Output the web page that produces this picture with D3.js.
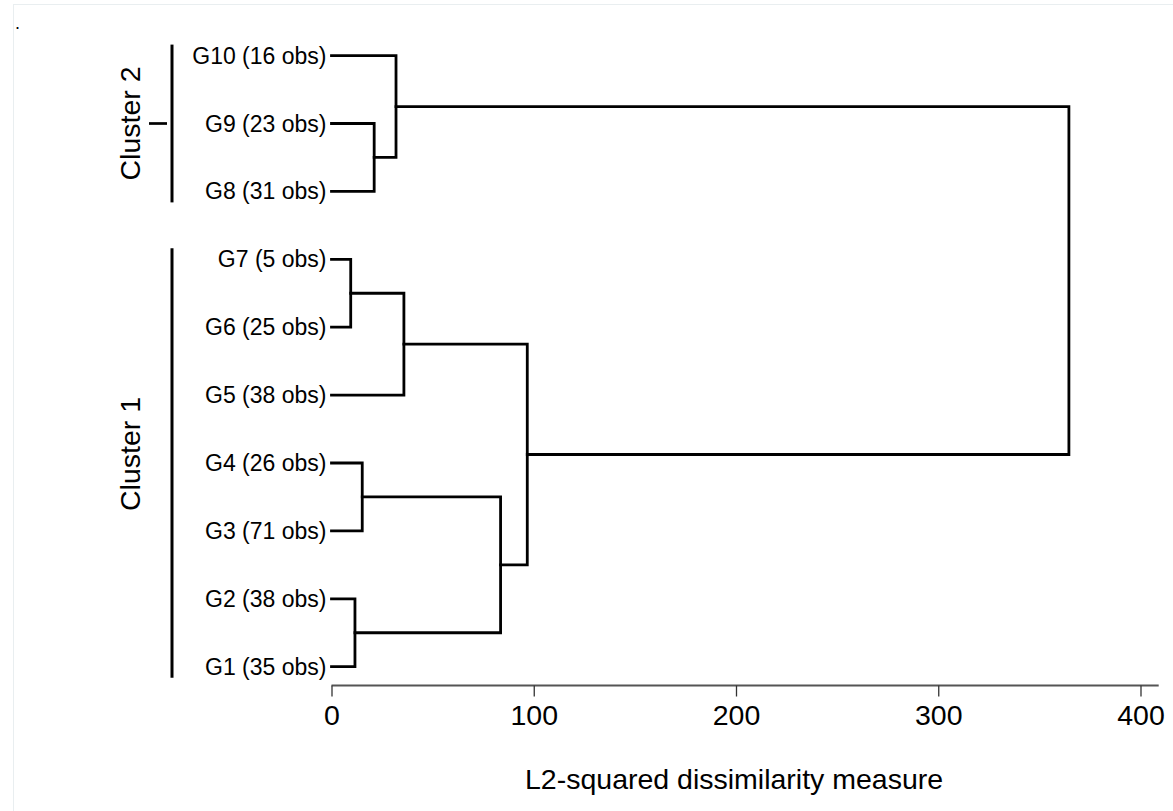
<!DOCTYPE html>
<html>
<head>
<meta charset="utf-8">
<script src="https://cdn.jsdelivr.net/npm/d3@7"></script>
<style>
  html, body { margin: 0; padding: 0; background: #fff; }
  svg { display: block; }
  text { font-family: "Liberation Sans", Arial, Helvetica, sans-serif; fill: #000; }
</style>
</head>
<body>
<svg id="chart" width="1173" height="811"></svg>
<script>
// ---- Data ----
// Leaves in display order (top to bottom)
const leafIds    = ["G10", "G9", "G8", "G7", "G6", "G5", "G4", "G3", "G2", "G1"];
const leafLabels = ["G10 (16 obs)", "G9 (23 obs)", "G8 (31 obs)", "G7 (5 obs)", "G6 (25 obs)",
                    "G5 (38 obs)", "G4 (26 obs)", "G3 (71 obs)", "G2 (38 obs)", "G1 (35 obs)"];
// Merge steps (linkage): node ids, children, dissimilarity height
const mergeIds    = ["N1", "N2", "N3", "N4", "N5", "N6", "N7", "N8", "N9"];
const mergeLeft   = ["G7", "G2", "G4", "G9", "G10", "N1", "N3", "N6", "N5"];
const mergeRight  = ["G6", "G1", "G3", "G8", "N4",  "G5", "N2", "N7", "N8"];
const mergeHeight = [9.5, 11.6, 15.2, 21.1, 31.9, 35.8, 83.6, 96.8, 364.6];
// Axis
const xTicks = [0, 100, 200, 300, 400];
const axisMax = 409;
const axisTitle = "L2-squared dissimilarity measure";
// Cluster groupings
const clusterNames = ["Cluster 2", "Cluster 1"];
const clusterFirst = ["G10", "G7"];
const clusterLast  = ["G8", "G1"];
const clusterTick  = [true, false];

// ---- Drawing ----
const svg = d3.select("#chart");
svg.append("rect").attr("x", 13.5).attr("y", 4.5).attr("width", 1200).attr("height", 900)
  .attr("fill", "#fff").attr("stroke", "#e9eef0").attr("stroke-width", 1);
svg.append("text").attr("x", 15).attr("y", 29).attr("font-size", 18).text(".");

const x = d3.scaleLinear().domain([0, axisMax]).range([331.5, 1158.7]);
const y = d3.scalePoint().domain(leafIds).range([55.6, 666.7]);

// node positions
const pos = {};
leafIds.forEach(id => { pos[id] = { x: 0, y: y(id) }; });
mergeIds.forEach((id, i) => {
  const a = pos[mergeLeft[i]], b = pos[mergeRight[i]];
  pos[id] = { x: mergeHeight[i], y: (a.y + b.y) / 2 };
});

const g = svg.append("g").attr("fill", "none").attr("stroke", "#000")
  .attr("stroke-width", 2.8).attr("stroke-linecap", "square").attr("stroke-linejoin", "miter");
mergeIds.forEach((id, i) => {
  const a = pos[mergeLeft[i]], b = pos[mergeRight[i]], h = mergeHeight[i];
  const p = d3.path();
  p.moveTo(x(a.x), a.y); p.lineTo(x(h), a.y); p.lineTo(x(h), b.y); p.lineTo(x(b.x), b.y);
  g.append("path").attr("d", p.toString());
});

// leaf labels
svg.append("g").selectAll("text").data(leafIds).join("text")
  .attr("x", x(0) - 5).attr("y", d => y(d)).attr("dy", "0.35em")
  .attr("text-anchor", "end").attr("font-size", 23)
  .text((d, i) => leafLabels[i]);

// x axis
const axisY = 685.5;
const ax = svg.append("g").attr("transform", `translate(0,${axisY})`)
  .call(d3.axisBottom(x).tickValues(xTicks).tickSize(11).tickPadding(8).tickFormat(d3.format("d")));
ax.select(".domain").attr("stroke", "#555").attr("stroke-width", 2).attr("d", `M${x(0)},0H${x(axisMax)}`);
ax.selectAll(".tick line").attr("stroke", "#333").attr("stroke-width", 1.3);
ax.selectAll(".tick text").attr("font-size", 28.5).attr("fill", "#000")
  .attr("font-family", "'Liberation Sans', Arial, sans-serif");

svg.append("text").attr("x", (x(0) + x(axisMax)) / 2 - 11).attr("y", 789)
  .attr("text-anchor", "middle").attr("font-size", 28.5).text(axisTitle);

// cluster bars
const pad = 11;
clusterNames.forEach((name, i) => {
  const y0 = y(clusterFirst[i]) - pad, y1 = y(clusterLast[i]) + pad;
  svg.append("line").attr("x1", 172).attr("x2", 172).attr("y1", y0).attr("y2", y1)
    .attr("stroke", "#000").attr("stroke-width", 3);
  const cy = (y0 + y1) / 2;
  if (clusterTick[i]) {
    svg.append("line").attr("x1", 149).attr("x2", 167).attr("y1", cy).attr("y2", cy)
      .attr("stroke", "#000").attr("stroke-width", 2.7);
  }
  const ty = clusterTick[i] ? cy : cy - 9;
  svg.append("text").attr("transform", `translate(139.5,${ty}) rotate(-90)`)
    .attr("text-anchor", "middle").attr("font-size", 28.5).text(name);
});
</script>
</body>
</html>
